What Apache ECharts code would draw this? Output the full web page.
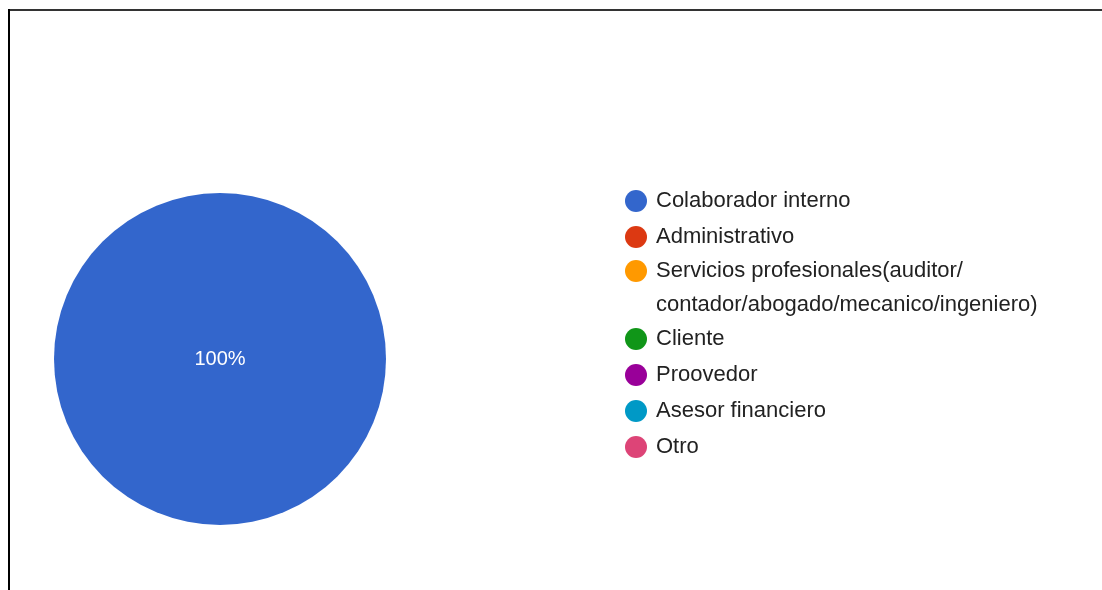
<!DOCTYPE html>
<html>
<head>
<meta charset="utf-8">
<script src="https://cdn.jsdelivr.net/npm/echarts@6/dist/echarts.min.js"></script>
<style>
  html, body { margin: 0; padding: 0; background: #ffffff; }
  #chart { width: 1102px; height: 590px; }
</style>
</head>
<body>
<div id="chart"></div>
<script>
// Response categories and counts
const categories = [
  'Colaborador interno',
  'Administrativo',
  'Servicios profesionales(auditor/contador/abogado/mecanico/ingeniero)',
  'Cliente',
  'Proovedor',
  'Asesor financiero',
  'Otro'
];
const responses = [100, 0, 0, 0, 0, 0, 0];
const palette = ['#3366cc', '#dc3912', '#ff9900', '#109618', '#990099', '#0099c6', '#dd4477'];

const FONT = '"Liberation Sans", Arial, sans-serif';
const WRAP_AT = '(auditor/';

// Shared look of the legend blocks on the right
function legendBlock(names, top, lineHeight, formatter) {
  const block = {
    orient: 'vertical',
    left: 625,
    top: top,
    padding: 0,
    icon: 'circle',
    itemWidth: 22,
    itemHeight: 22,
    itemGap: 10,
    selectedMode: false,
    textStyle: {
      fontSize: 22,
      fontFamily: FONT,
      color: '#222222',
      lineHeight: lineHeight,
      padding: [4, 0, 0, 4]
    },
    data: names
  };
  if (formatter) block.formatter = formatter;
  return block;
}

const chart = echarts.init(document.getElementById('chart'), null, { renderer: 'canvas' });

chart.setOption({
  animation: false,
  backgroundColor: '#ffffff',
  color: palette,
  graphic: [
    // frame lines along the top and left edges
    { type: 'rect', silent: true, shape: { x: 8, y: 9, width: 1094, height: 2 }, style: { fill: '#333333' } },
    { type: 'rect', silent: true, shape: { x: 8, y: 9, width: 2, height: 581 }, style: { fill: '#000000' } }
  ],
  legend: [
    legendBlock(categories.slice(0, 2), 188, 22),
    // long entry wraps onto a second line; a leading blank line keeps the
    // first text line level with its marker
    legendBlock([categories[2]], 218, 34,
      name => '\n' + name.replace(WRAP_AT, WRAP_AT + '\n')),
    legendBlock(categories.slice(3), 326, 22)
  ],
  series: [{
    type: 'pie',
    center: [220, 359],
    radius: 166,
    startAngle: 90,
    clockwise: true,
    avoidLabelOverlap: false,
    percentPrecision: 0,
    itemStyle: { borderWidth: 0 },
    label: {
      position: 'center',
      formatter: '{d}%',
      color: '#ffffff',
      fontSize: 20,
      fontFamily: FONT
    },
    labelLine: { show: false },
    emphasis: { disabled: true },
    data: categories.map((name, i) => ({
      name,
      value: responses[i],
      label: { show: responses[i] > 0 }
    }))
  }]
});
</script>
</body>
</html>
